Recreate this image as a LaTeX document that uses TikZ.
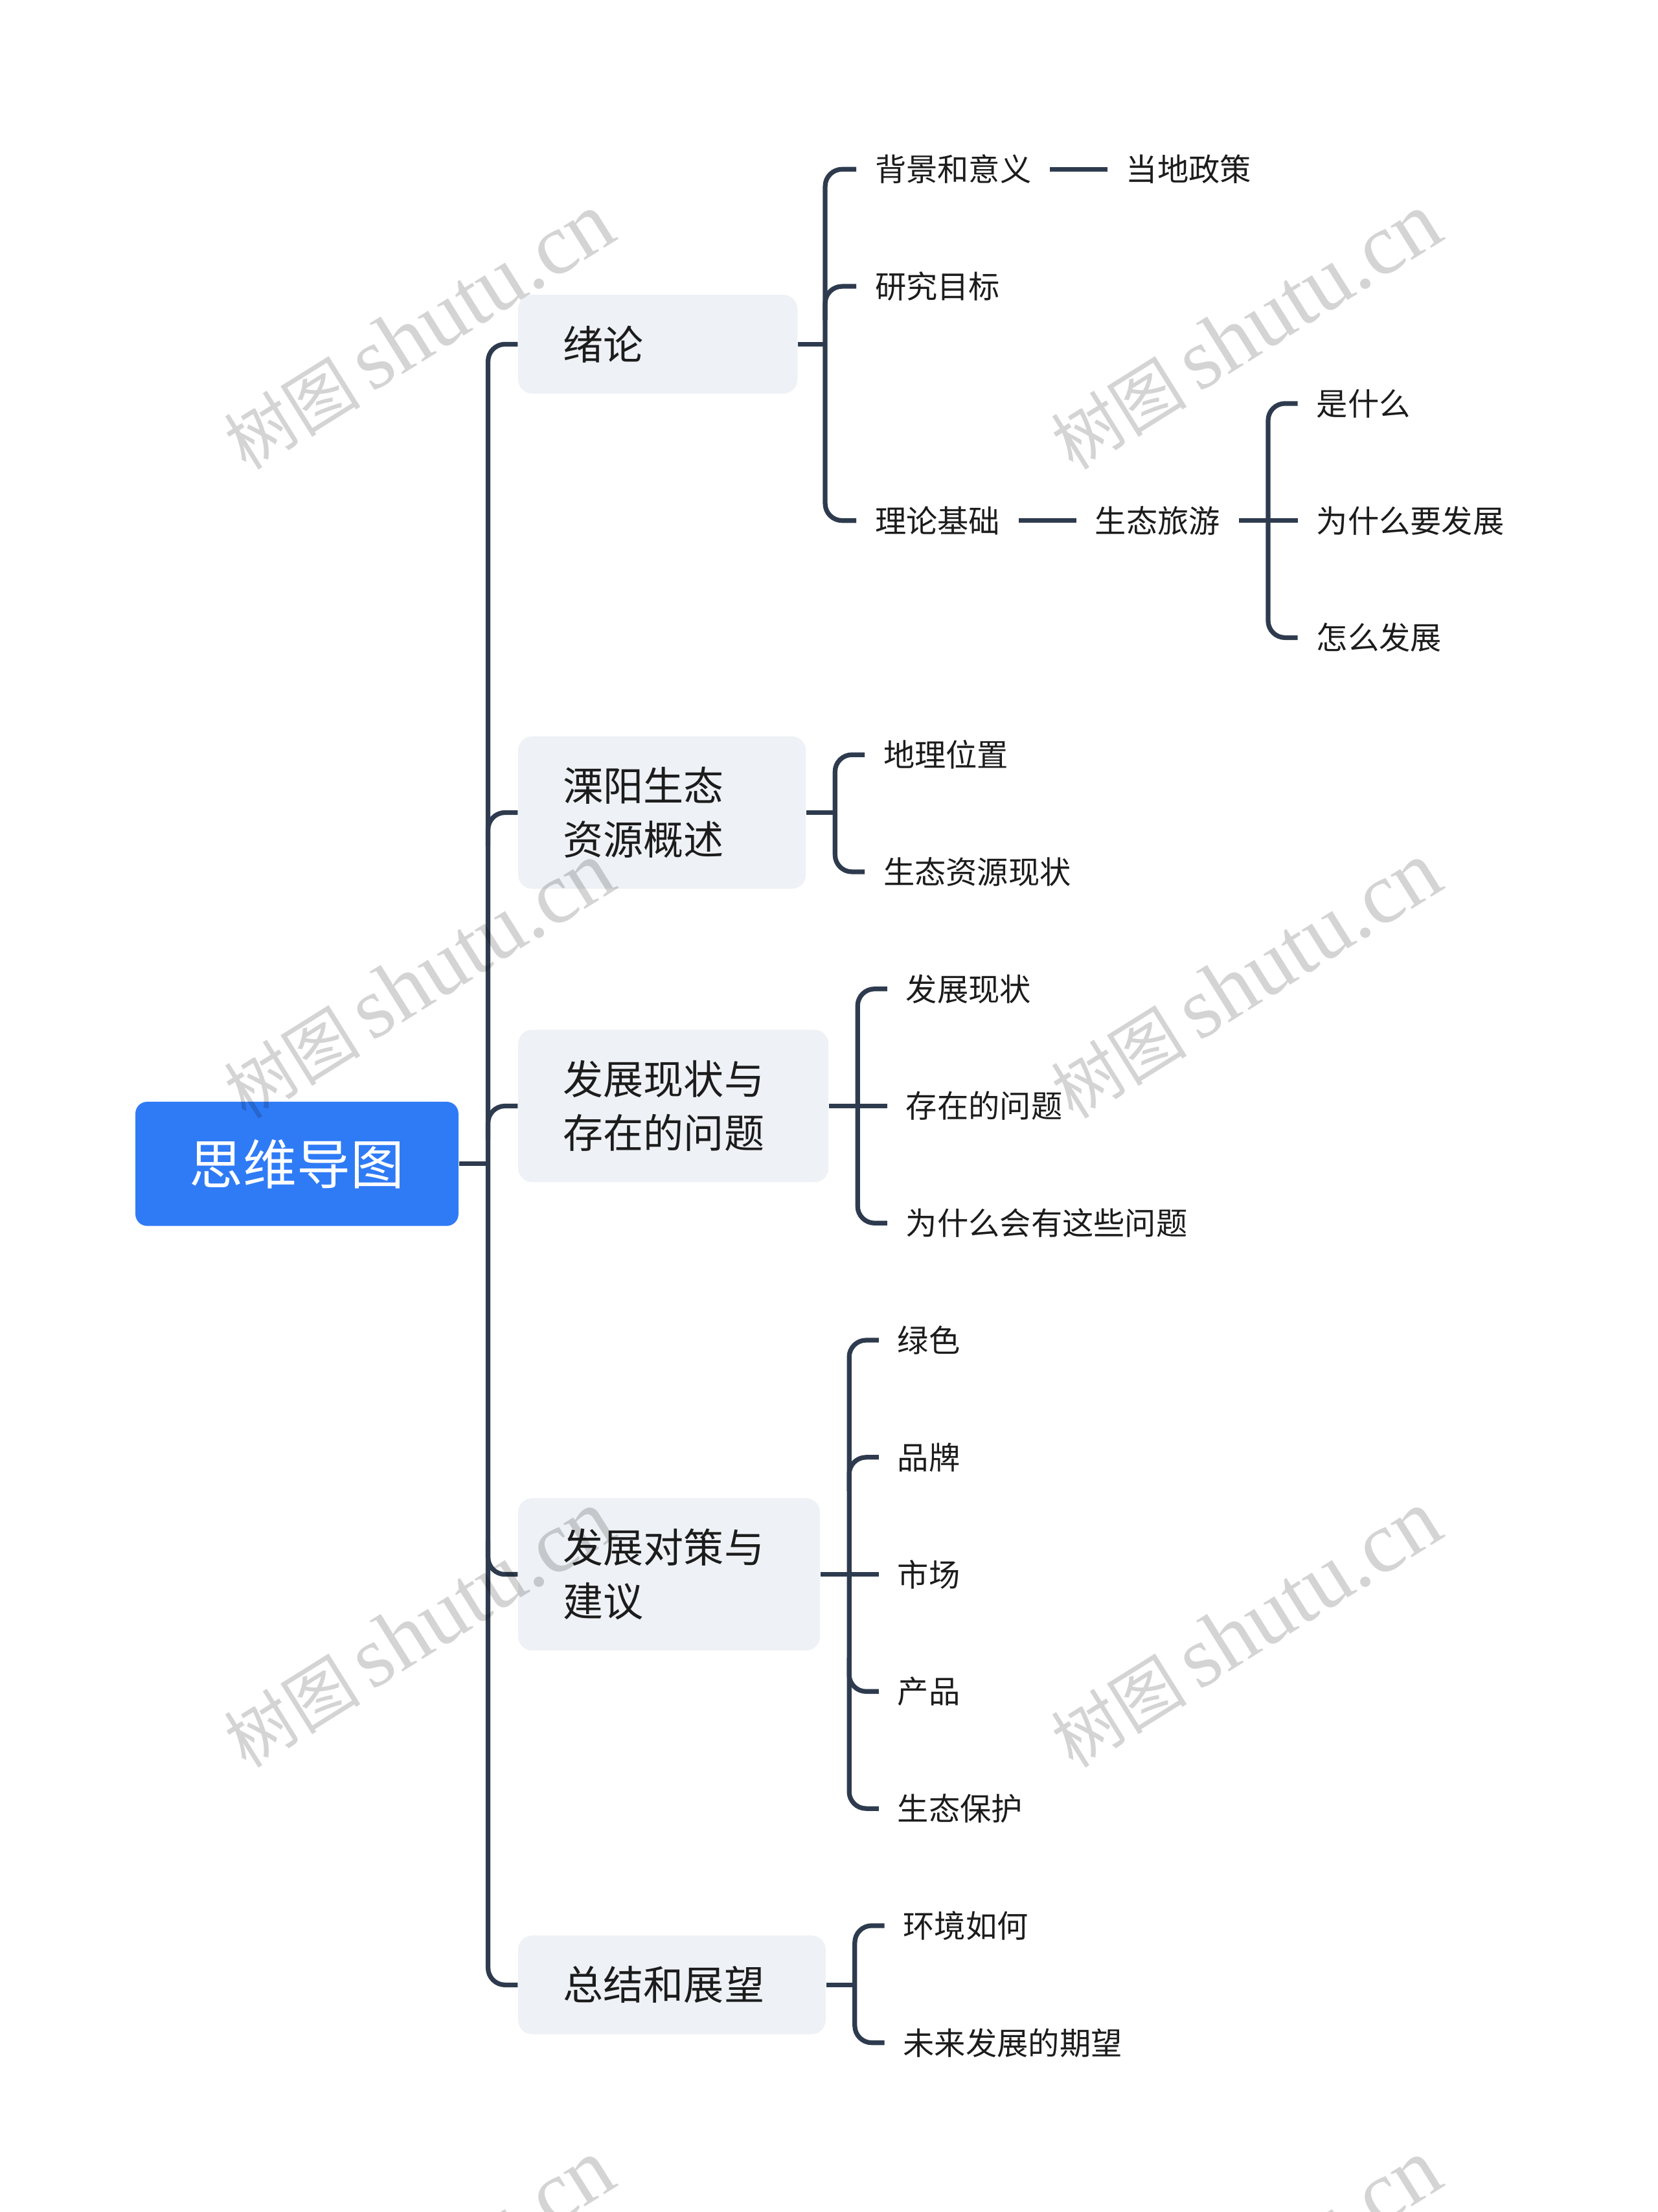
\documentclass[tikz,border=0pt]{standalone}
\usepackage{fontspec}
\setmainfont{Noto Sans CJK SC}
\newfontfamily\wmcjk{Noto Sans CJK SC}
\newfontfamily\wmlat{Liberation Serif}
\usetikzlibrary{calc}
\newlength\UU
\setlength\UU{0.6pt}
\definecolor{linec}{HTML}{2E3B4E}
\definecolor{rootc}{HTML}{2F7BF6}
\definecolor{boxc}{HTML}{EEF1F5}
\definecolor{txtc}{HTML}{1C1C1C}
\begin{document}
\begin{tikzpicture}[x=0.6pt,y=-0.6pt,
  conn/.style={draw=linec, line width=2pt, rounded corners=7.2pt},
  rootbox/.style={fill=rootc, rounded corners=5pt, text=white,
    font=\fontsize{22.8pt}{27pt}\selectfont, minimum width=229\UU,
    minimum height=88\UU, inner sep=0pt},
  topic/.style={fill=boxc, rounded corners=6pt, text=txtc,
    font=\fontsize{17.1pt}{22.8pt}\selectfont, align=left,
    inner xsep=32\UU, inner ysep=0pt, anchor=west},
  leaf/.style={text=txtc, font=\fontsize{13.3pt}{16pt}\selectfont,
    inner sep=0pt, anchor=west},
  wm/.style={text=black, opacity=0.17, rotate=32, inner sep=0pt}]
\clip (0,0) rectangle (1175,1568);
\fill[white] (0,0) rectangle (1175,1568);

% root
\node[rootbox] (root) at (210.5,825) {思维导图};

% topics
\node[topic, text width=134\UU, minimum height=70\UU] (t1) at (367,244) {绪论};
\node[topic, text width=140\UU, minimum height=108\UU] (t2) at (367,576) {溧阳生态\\资源概述};
\node[topic, text width=156\UU, minimum height=108\UU] (t3) at (367,784) {发展现状与\\存在的问题};
\node[topic, text width=150\UU, minimum height=108\UU] (t4) at (367,1116) {发展对策与\\建议};
\node[topic, text width=154\UU, minimum height=70\UU] (t5) at (367,1407) {总结和展望};

% leaves group 1
\node[leaf] (k11) at (620,120) {背景和意义};
\node[leaf] (k111) at (798,120) {当地政策};
\node[leaf] (k12) at (620,203) {研究目标};
\node[leaf] (k13) at (620,369) {理论基础};
\node[leaf] (k131) at (776,369) {生态旅游};
\node[leaf] (m1) at (933,286) {是什么};
\node[leaf] (m2) at (933,369) {为什么要发展};
\node[leaf] (m3) at (933,452) {怎么发展};
% group 2
\node[leaf] (k21) at (626,535) {地理位置};
\node[leaf] (k22) at (626,618) {生态资源现状};
% group 3
\node[leaf] (k31) at (642,701) {发展现状};
\node[leaf] (k32) at (642,784) {存在的问题};
\node[leaf] (k33) at (642,867) {为什么会有这些问题};
% group 4
\node[leaf] (k41) at (636,950) {绿色};
\node[leaf] (k42) at (636,1033) {品牌};
\node[leaf] (k43) at (636,1116) {市场};
\node[leaf] (k44) at (636,1199) {产品};
\node[leaf] (k45) at (636,1282) {生态保护};
% group 5
\node[leaf] (k51) at (640,1365) {环境如何};
\node[leaf] (k52) at (640,1448) {未来发展的期望};

% trunk
\coordinate (bT) at (346,825);
\draw[conn] (root.east) -- (bT);
\draw[conn] (t1.west) -| (bT) |- (t5.west);
\draw[conn] ($(bT|-t2.west)+(0,24)$) |- (t2.west);
\draw[conn] ($(bT|-t3.west)+(0,24)$) |- (t3.west);
\draw[conn] ($(bT|-t4.west)+(0,-24)$) |- (t4.west);

% group 1
\coordinate (b1) at (585,244);
\draw[conn] (t1.east) -- (b1);
\draw[conn] ([xshift=-13\UU]k11.west) -| (b1) |- ([xshift=-13\UU]k13.west);
\draw[conn] ($(b1|-k12.west)+(0,24)$) |- ([xshift=-13\UU]k12.west);
\draw[conn, shorten <=13\UU, shorten >=13\UU] (k11.east) -- (k111.west);
\draw[conn, shorten <=13\UU, shorten >=13\UU] (k13.east) -- (k131.west);
\coordinate (b13) at (899,369);
\draw[conn, shorten <=13\UU] (k131.east) -- (b13);
\draw[conn] ([xshift=-13\UU]m1.west) -| (b13) |- ([xshift=-13\UU]m3.west);
\draw[conn] (b13) -- ([xshift=-13\UU]m2.west);

% group 2
\coordinate (b2) at (592,576);
\draw[conn] (t2.east) -- (b2);
\draw[conn] ([xshift=-13\UU]k21.west) -| (b2) |- ([xshift=-13\UU]k22.west);

% group 3
\coordinate (b3) at (608,784);
\draw[conn] (t3.east) -- (b3);
\draw[conn] ([xshift=-13\UU]k31.west) -| (b3) |- ([xshift=-13\UU]k33.west);
\draw[conn] (b3) -- ([xshift=-13\UU]k32.west);

% group 4
\coordinate (b4) at (602,1116);
\draw[conn] (t4.east) -- (b4);
\draw[conn] ([xshift=-13\UU]k41.west) -| (b4) |- ([xshift=-13\UU]k45.west);
\draw[conn] ($(b4|-k42.west)+(0,24)$) |- ([xshift=-13\UU]k42.west);
\draw[conn] (b4) -- ([xshift=-13\UU]k43.west);
\draw[conn] ($(b4|-k44.west)+(0,-24)$) |- ([xshift=-13\UU]k44.west);

% group 5
\coordinate (b5) at (606,1407);
\draw[conn] (t5.east) -- (b5);
\draw[conn] ([xshift=-13\UU]k51.west) -| (b5) |- ([xshift=-13\UU]k52.west);

% watermarks
\foreach \cx in {297,883} {
  \foreach \cy in {235,695,1155,1615} {
    \node[wm] (wm-\cx-\cy) at (\cx,\cy)
      {{\wmcjk\fontsize{29pt}{29pt}\selectfont 树图}\hspace{5pt}{\wmlat\fontsize{37pt}{37pt}\selectfont shutu.cn}};
  }
}
\end{tikzpicture}
\end{document}
